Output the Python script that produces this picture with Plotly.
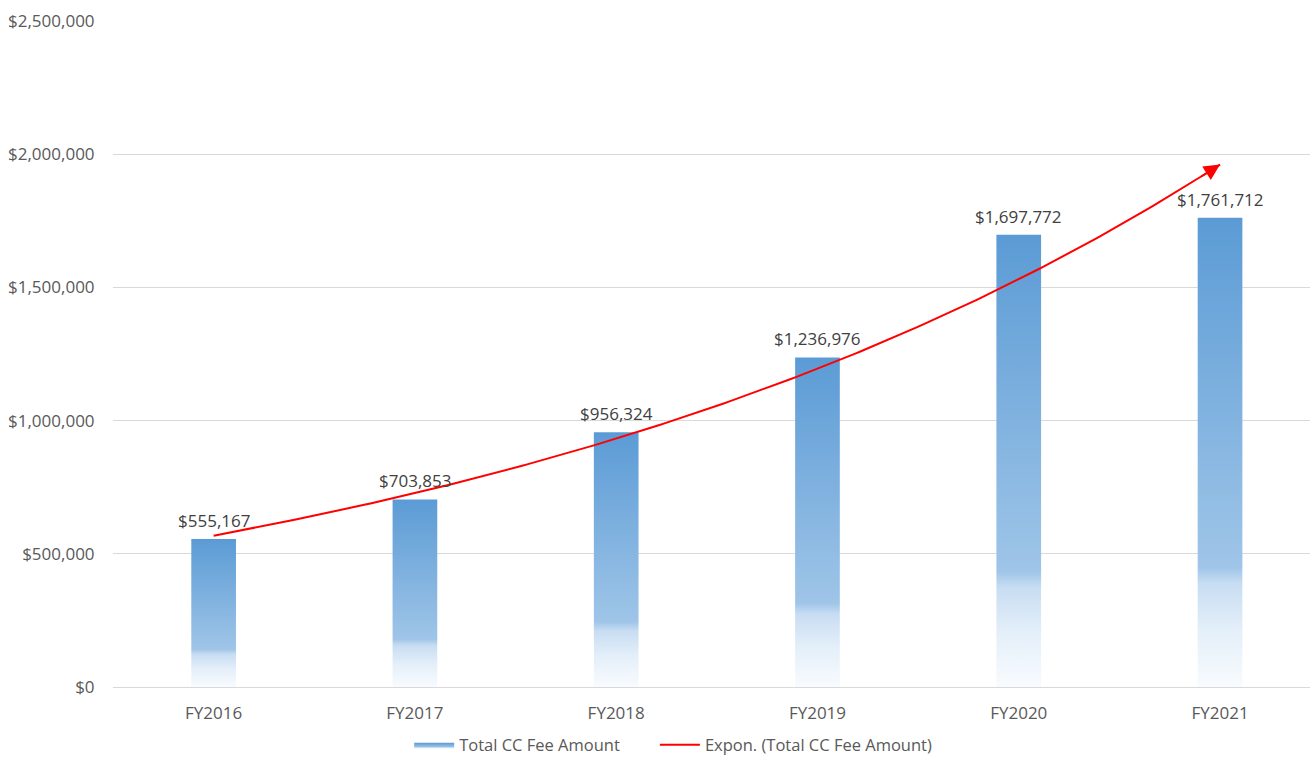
import numpy as np
import plotly.graph_objects as go

categories = ["FY2016", "FY2017", "FY2018", "FY2019", "FY2020", "FY2021"]
fee_amounts = [555167, 703853, 956324, 1236976, 1697772, 1761712]
label_texts = ["$555,167", "$703,853", "$956,324", "$1,236,976", "$1,697,772", "$1,761,712"]

FONT = "'Open Sans', sans-serif"
BAR_HALF = 0.111
gradient = [[0.0, "#f8fbfe"], [0.12, "#e4eff9"], [0.22, "#c8ddf2"],
            [0.255, "#9fc5e8"], [1.0, "#5b9bd5"]]

fig = go.Figure()
xs = list(range(len(categories)))
for i, (xc, v) in enumerate(zip(xs, fee_amounts)):
    fig.add_trace(go.Scatter(
        x=[xc - BAR_HALF, xc + BAR_HALF, xc + BAR_HALF, xc - BAR_HALF, xc - BAR_HALF],
        y=[0, 0, v, v, 0],
        mode="lines", line=dict(width=0), fill="toself",
        fillcolor="#7fb0df",
        fillgradient=dict(type="vertical", colorscale=gradient),
        name="Total CC Fee Amount" + "\u00a0" * 7, legendgroup="bars",
        showlegend=(i == 0), hoverinfo="skip",
    ))

# data labels
for xc, v, t in zip(xs, fee_amounts, label_texts):
    fig.add_annotation(x=xc, y=v, text=t, showarrow=False, yanchor="bottom",
                       yshift=5, font=dict(family=FONT, size=17, color="#404040"))

# exponential trendline (least squares on ln y, like Excel)
xn = np.arange(1, len(fee_amounts) + 1)
b, ln_a = np.polyfit(xn, np.log(fee_amounts), 1)
xt = np.linspace(1, len(fee_amounts), 200)
yt = np.exp(ln_a + b * xt)
fig.add_trace(go.Scatter(
    x=xt - 1, y=yt, mode="lines", line=dict(color="#ff0000", width=2),
    name="Expon. (Total CC Fee Amount)", hoverinfo="skip",
))
fig.add_annotation(
    x=xt[-1] - 1, y=yt[-1], ax=xt[-5] - 1, ay=yt[-5], xref="x", yref="y",
    axref="x", ayref="y", text="", showarrow=True, arrowhead=2, arrowsize=1.6,
    arrowwidth=2, arrowcolor="#ff0000",
)

fig.update_layout(
    width=1310, height=763,
    margin=dict(l=113, r=0, t=21, b=76),
    paper_bgcolor="white", plot_bgcolor="white",
    font=dict(family=FONT, size=16, color="#595959"),
    showlegend=True,
    legend=dict(orientation="h", x=0.468, xanchor="center", y=-0.1135, yanchor="bottom",
                font=dict(family=FONT, size=16.5, color="#595959"), itemwidth=40,
                tracegroupgap=0),
)
fig.update_xaxes(
    range=[-0.5, 5.447], tickvals=xs, ticktext=categories, showgrid=False,
    showline=True, linecolor="#d9d9d9", linewidth=1, zeroline=False,
    ticks="outside", ticklen=11, tickcolor="rgba(0,0,0,0)",
    tickfont=dict(family=FONT, size=17, color="#595959"),
)
fig.update_yaxes(
    range=[0, 2500000], dtick=500000, tickformat="$,.0f", showgrid=True,
    gridcolor="#d9d9d9", gridwidth=1, zeroline=False, showline=False,
    ticks="outside", ticklen=14, tickcolor="rgba(0,0,0,0)",
    tickfont=dict(family=FONT, size=17, color="#595959"),
)

fig.write_html("out.html")
